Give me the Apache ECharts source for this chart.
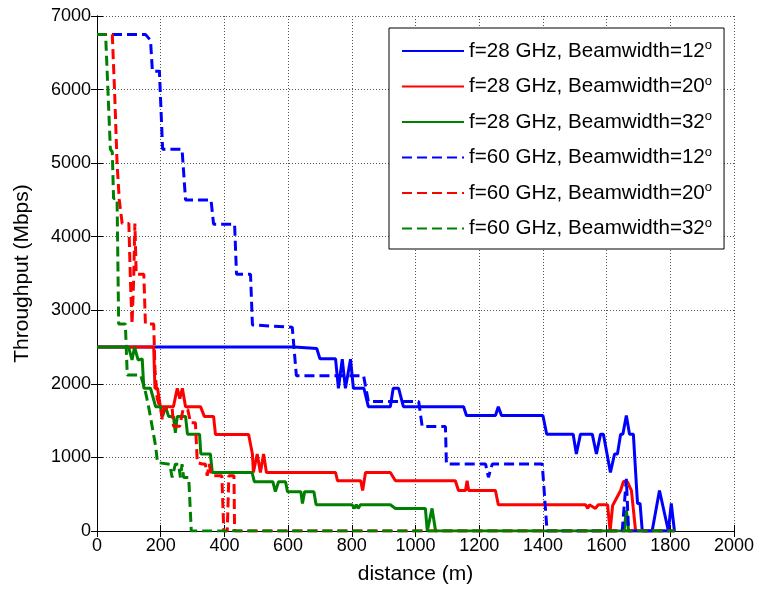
<!DOCTYPE html>
<html>
<head>
<meta charset="utf-8">
<script src="https://cdn.jsdelivr.net/npm/echarts@6/dist/echarts.min.js"></script>
<style>
  html, body { margin: 0; padding: 0; background: #fff; }
  #chart { width: 760px; height: 590px; }
</style>
</head>
<body>
<div id="chart"></div>
<script>
// 横轴/纵轴刻度
const xTicks = [0, 200, 400, 600, 800, 1000, 1200, 1400, 1600, 1800, 2000];
const yTicks = [0, 1000, 2000, 3000, 4000, 5000, 6000, 7000];

// 图例名称（度数上标单独处理）
const seriesNames = [
  'f=28 GHz, Beamwidth=12',
  'f=28 GHz, Beamwidth=20',
  'f=28 GHz, Beamwidth=32',
  'f=60 GHz, Beamwidth=12',
  'f=60 GHz, Beamwidth=20',
  'f=60 GHz, Beamwidth=32'
];

// [距离 m, 吞吐量 Mbps]
const f28bw12 = [[0,2500],[620,2500],[625,2480],[690,2480],[700,2340],[749,2340],[758,1940],[770,2335],[780,1940],[796,2335],[805,1940],[838,1940],[852,1690],[921,1690],[930,1940],[947,1940],[962,1690],[1151,1690],[1160,1570],[1251,1570],[1260,1690],[1270,1570],[1400,1570],[1412,1316],[1495,1316],[1505,1047],[1518,1316],[1555,1316],[1568,1047],[1581,1316],[1590,1316],[1612,795],[1625,1047],[1634,1047],[1644,1316],[1651,1316],[1662,1570],[1672,1316],[1684,1316],[1697,374],[1705,374],[1712,0],[1743,0],[1766,550],[1794,0],[1803,374],[1813,0]];

const f28bw20 = [[0,2500],[178,2500],[182,1940],[190,1940],[199,1690],[240,1690],[252,1940],[260,1800],[268,1940],[278,1690],[325,1690],[337,1558],[366,1558],[372,1312],[476,1312],[488,1047],[491,795],[503,1047],[513,795],[523,1047],[532,795],[749,795],[755,684],[828,684],[834,550],[843,795],[921,795],[937,684],[1125,684],[1135,550],[1157,550],[1162,684],[1167,550],[1251,550],[1260,357],[1534,357],[1541,307],[1546,357],[1565,307],[1574,357],[1603,357],[1611,0],[1619,347],[1644,550],[1653,672],[1665,672],[1678,550],[1691,0]];

const f28bw32 = [[0,2500],[99,2500],[110,2325],[118,2500],[129,2325],[135,2340],[142,2340],[147,1940],[168,1940],[184,1690],[199,1690],[206,1558],[215,1690],[225,1558],[240,1558],[246,1334],[252,1558],[278,1558],[284,1316],[322,1316],[326,1047],[356,1047],[362,795],[487,795],[494,670],[552,670],[560,535],[570,670],[592,670],[598,535],[640,535],[645,374],[652,535],[681,535],[688,357],[801,357],[808,307],[814,357],[820,307],[827,357],[921,357],[937,307],[1031,307],[1037,0],[1052,307],[1063,0],[1655,0],[1662,280],[1669,0],[1813,0]];

const f60bw12 = [[0,6750],[152,6750],[168,6670],[174,6250],[196,6250],[206,5190],[267,5190],[278,4500],[358,4500],[366,4170],[432,4170],[438,3490],[482,3490],[488,2800],[613,2770],[626,2110],[837,2110],[852,1760],[1010,1760],[1021,1420],[1094,1420],[1097,910],[1220,910],[1229,730],[1241,910],[1398,910],[1413,0],[1649,0],[1662,710],[1669,0],[1813,0]];

const f60bw20 = [[0,6750],[48,6750],[55,6000],[63,5000],[70,4500],[79,4180],[100,4180],[105,3400],[110,2815],[115,3400],[119,4180],[121,4180],[123,3490],[147,3490],[152,2815],[178,2815],[182,2200],[189,1800],[200,1650],[205,1520],[210,1670],[236,1670],[240,1424],[260,1424],[270,1650],[285,1650],[294,1470],[309,1470],[315,930],[330,910],[340,910],[346,751],[352,910],[360,751],[392,751],[398,0],[409,0],[414,751],[430,751],[432,0],[1813,0]];

const f60bw32 = [[0,6750],[27,6750],[42,5190],[48,5150],[52,4520],[63,4520],[68,2815],[89,2815],[95,2120],[137,2120],[152,1895],[162,1690],[173,1424],[184,1155],[190,930],[228,908],[236,728],[246,908],[256,908],[262,728],[267,908],[272,728],[288,728],[296,0],[1813,0]];

const seriesData = [f28bw12, f28bw20, f28bw32, f60bw12, f60bw20, f60bw32];
const colors = ['#0000ff', '#ff0000', '#008000', '#0000ff', '#ff0000', '#008000'];
const dashed = [false, false, false, true, true, true];

const font = 'Liberation Sans, Arial, sans-serif';
let myChart = echarts.init(document.getElementById('chart'), null, { renderer: 'canvas' });

const axisCommon = {
  type: 'value',
  axisLine: { show: true, lineStyle: { color: '#000', width: 1 } },
  axisTick: { show: true, inside: true, length: 6, lineStyle: { color: '#000' } }
};
// 去掉千位分隔符
const plain = function (v) { return String(v); };

let option = {
  animation: false,
  backgroundColor: '#fff',
  grid: { left: 97, right: 26, top: 16, bottom: 54 },
  xAxis: [
    Object.assign({}, axisCommon, {
      min: xTicks[0], max: xTicks[xTicks.length - 1], interval: xTicks[1] - xTicks[0],
      position: 'bottom',
      name: 'distance (m)', nameLocation: 'middle', nameGap: 33,
      nameTextStyle: { fontFamily: font, fontSize: 21, color: '#000' },
      axisLabel: { fontFamily: font, fontSize: 18, color: '#000', margin: 6, formatter: plain },
      splitLine: { show: true, lineStyle: { type: [1, 2], color: '#555', width: 1 } }
    }),
    Object.assign({}, axisCommon, {
      min: xTicks[0], max: xTicks[xTicks.length - 1], interval: xTicks[1] - xTicks[0],
      position: 'top', axisLabel: { show: false }, splitLine: { show: false }
    })
  ],
  yAxis: [
    Object.assign({}, axisCommon, {
      min: yTicks[0], max: yTicks[yTicks.length - 1], interval: yTicks[1] - yTicks[0],
      position: 'left',
      name: 'Throughput (Mbps)', nameLocation: 'middle', nameGap: 64,
      nameTextStyle: { fontFamily: font, fontSize: 21, color: '#000' },
      axisLabel: { fontFamily: font, fontSize: 18, color: '#000', margin: 6, formatter: plain },
      splitLine: { show: true, lineStyle: { type: [1, 2], color: '#555', width: 1 } }
    }),
    Object.assign({}, axisCommon, {
      min: yTicks[0], max: yTicks[yTicks.length - 1], interval: yTicks[1] - yTicks[0],
      position: 'right', axisLabel: { show: false }, splitLine: { show: false }
    })
  ],
  legend: {
    orient: 'vertical',
    left: 389, top: 28,
    padding: [11, 12, 10, 12],
    itemWidth: 62, itemHeight: 14, itemGap: 13,
    backgroundColor: '#fff',
    borderColor: '#000', borderWidth: 1, borderRadius: 0,
    itemStyle: { opacity: 0 },
    data: seriesNames,
    formatter: function (name) { return '{t|' + name + '}{s|o}'; },
    textStyle: {
      color: '#000',
      rich: {
        t: { fontFamily: font, fontSize: 20.6, lineHeight: 24, color: '#000' },
        s: { fontFamily: font, fontSize: 13, lineHeight: 13, verticalAlign: 'top', color: '#000' }
      }
    }
  },
  series: seriesNames.map(function (name, i) {
    return {
      name: name,
      type: 'line',
      data: seriesData[i],
      symbol: 'none',
      xAxisIndex: 0, yAxisIndex: 0,
      lineStyle: { color: colors[i], width: 3, type: dashed[i] ? [10, 5] : 'solid' },
      itemStyle: { color: colors[i] },
      emphasis: { disabled: true }
    };
  })
};

option && myChart.setOption(option);
</script>
</body>
</html>
